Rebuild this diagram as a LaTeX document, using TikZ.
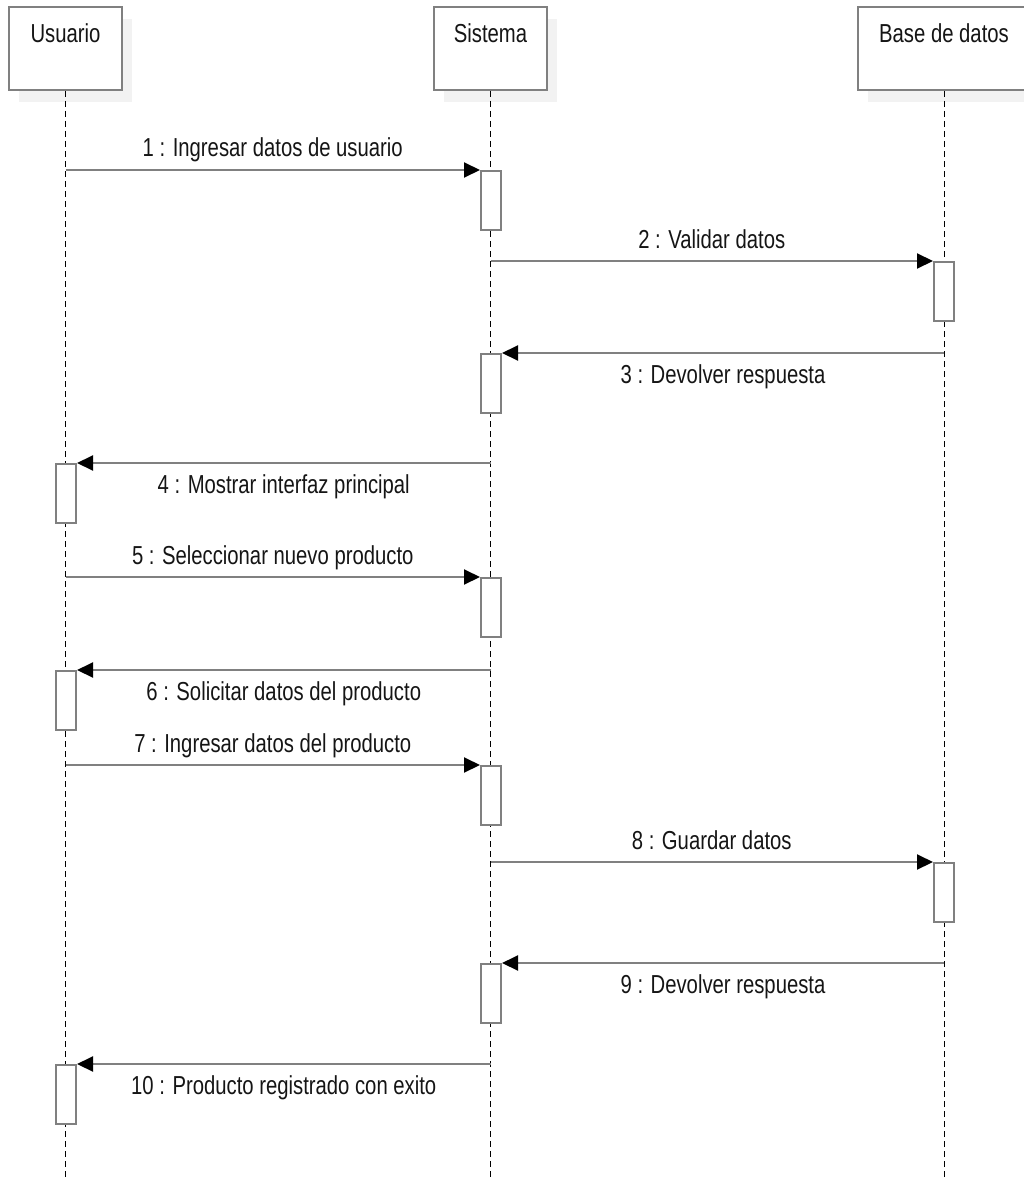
\documentclass[tikz,border=0pt]{standalone}
\usepackage{fontspec}
\setmainfont{Liberation Sans}[FakeStretch=0.78]
\usepackage{xcolor}
\usepackage{tikz}
\usetikzlibrary{positioning, arrows.meta, shadows}

\definecolor{borde}{HTML}{808080}
\definecolor{texto}{HTML}{151515}

\tikzset{
  actor/.style={draw=borde, line width=2pt, fill=white, minimum width=113pt,
    text height=26pt, text depth=37pt, inner ysep=10pt, text=texto,
    font=\fontsize{26}{30}\selectfont,
    drop shadow={shadow xshift=10pt, shadow yshift=-12pt, fill=black!5, opacity=1}},
  activa/.style={draw=borde, line width=2pt, fill=white, minimum width=20pt,
    minimum height=59pt, inner sep=0pt, anchor=north},
  vida/.style={black, dashed, line width=1pt, dash pattern=on 6pt off 4pt},
  msg/.style={borde, line width=2pt, -{Triangle[length=16pt,width=15pt,color=black]}},
  etiq/.style={text=texto, font=\fontsize{26}{30}\selectfont, anchor=base, inner sep=0pt},
  arriba/.style={etiq, yshift=13pt},
  abajo/.style={etiq, yshift=-30pt}
}

\begin{document}
\begin{tikzpicture}[x=1pt, y=-1pt]
  \useasboundingbox (0,0) rectangle (1023,1180);
  \coordinate (fondo) at (0,1180);

  % Actores
  \node[actor] (usr) at (65.5,48.5) {Usuario};
  \node[actor] (sis) at (490.5,48.5) {Sistema};
  \node[actor, minimum width=172pt] (bd) at (944,48.5) {Base de datos};

  % Lineas de vida
  \draw[vida] (usr.south) -- (usr.south |- fondo);
  \draw[vida] (sis.south) -- (sis.south |- fondo);
  \draw[vida] (bd.south) -- (bd.south |- fondo);

  % Activaciones
  \node[activa] (a1) at (491,170) {};
  \node[activa] (a2) at (944,261) {};
  \node[activa] (a3) at (491,353) {};
  \node[activa] (a4) at (66,463) {};
  \node[activa] (a5) at (491,577) {};
  \node[activa] (a6) at (66,670) {};
  \node[activa] (a7) at (491,765) {};
  \node[activa] (a8) at (944,862) {};
  \node[activa] (a9) at (491,963) {};
  \node[activa] (a10) at (66,1064) {};

  % Mensajes
  \draw[msg] (usr |- a1.north) -- (a1.north west)
    node[arriba, midway] {1 : Ingresar datos de usuario};
  \draw[msg] (sis |- a2.north) -- (a2.north west)
    node[arriba, midway] {2 : Validar datos};
  \draw[msg] (bd |- a3.north) -- (a3.north east)
    node[abajo, midway] {3 : Devolver respuesta};
  \draw[msg] (sis |- a4.north) -- (a4.north east)
    node[abajo, midway] {4 : Mostrar interfaz principal};
  \draw[msg] (usr |- a5.north) -- (a5.north west)
    node[arriba, midway] {5 : Seleccionar nuevo producto};
  \draw[msg] (sis |- a6.north) -- (a6.north east)
    node[abajo, midway] {6 : Solicitar datos del producto};
  \draw[msg] (usr |- a7.north) -- (a7.north west)
    node[arriba, midway] {7 : Ingresar datos del producto};
  \draw[msg] (sis |- a8.north) -- (a8.north west)
    node[arriba, midway] {8 : Guardar datos};
  \draw[msg] (bd |- a9.north) -- (a9.north east)
    node[abajo, midway] {9 : Devolver respuesta};
  \draw[msg] (sis |- a10.north) -- (a10.north east)
    node[abajo, midway] {10 : Producto registrado con exito};
\end{tikzpicture}
\end{document}
